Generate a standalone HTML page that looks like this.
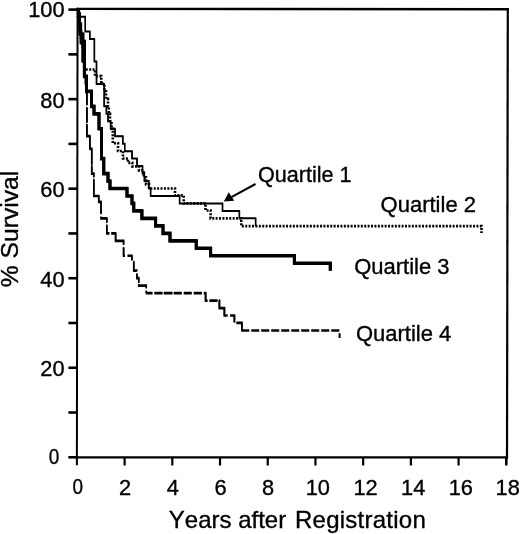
<!DOCTYPE html>
<html><head><meta charset="utf-8"><title>Survival by quartile</title>
<style>
html,body{margin:0;padding:0;background:#fff;}
body{width:520px;height:534px;overflow:hidden;}
svg{display:block;}
text{font-kerning:none;font-family:"Liberation Sans",Arial,Helvetica,sans-serif;fill:#000;stroke:#000;stroke-width:0.35px;}
.t{font-size:21.8px;}
.q{font-size:22px;}
.a{font-size:24px;}
</style></head><body>
<svg width="520" height="534" viewBox="0 0 520 534">
<rect width="520" height="534" fill="#fff"/>
<g fill="none" stroke="#000"><line x1="77.57" y1="7.7" x2="76.88" y2="465.3" stroke-width="2"/><line x1="507.8" y1="8.1" x2="507.0" y2="458.5" stroke-width="2.2"/><line x1="76.5" y1="8.85" x2="508.9" y2="9.25" stroke-width="2.3"/><line x1="75.9" y1="457.3" x2="508.1" y2="457.4" stroke-width="2.3"/></g>
<line x1="68.4" y1="457.3" x2="77.3" y2="457.3" stroke="#000" stroke-width="2.6"/>
<line x1="68.4" y1="412.53" x2="77.3" y2="412.53" stroke="#000" stroke-width="2.6"/>
<line x1="68.4" y1="367.76" x2="77.3" y2="367.76" stroke="#000" stroke-width="2.6"/>
<line x1="68.4" y1="322.99" x2="77.3" y2="322.99" stroke="#000" stroke-width="2.6"/>
<line x1="68.4" y1="278.22" x2="77.3" y2="278.22" stroke="#000" stroke-width="2.6"/>
<line x1="68.4" y1="233.45" x2="77.3" y2="233.45" stroke="#000" stroke-width="2.6"/>
<line x1="68.4" y1="188.68" x2="77.3" y2="188.68" stroke="#000" stroke-width="2.6"/>
<line x1="68.4" y1="143.91" x2="77.3" y2="143.91" stroke="#000" stroke-width="2.6"/>
<line x1="68.4" y1="99.14" x2="77.3" y2="99.14" stroke="#000" stroke-width="2.6"/>
<line x1="68.4" y1="54.37" x2="77.3" y2="54.37" stroke="#000" stroke-width="2.6"/>
<line x1="68.4" y1="9.6" x2="77.3" y2="9.6" stroke="#000" stroke-width="2.6"/>
<line x1="124.61" y1="457.3" x2="124.61" y2="465.5" stroke="#000" stroke-width="2.2"/>
<line x1="172.32" y1="457.3" x2="172.32" y2="465.5" stroke="#000" stroke-width="2.2"/>
<line x1="220.03" y1="457.3" x2="220.03" y2="465.5" stroke="#000" stroke-width="2.2"/>
<line x1="267.74" y1="457.3" x2="267.74" y2="465.5" stroke="#000" stroke-width="2.2"/>
<line x1="315.46" y1="457.3" x2="315.46" y2="465.5" stroke="#000" stroke-width="2.2"/>
<line x1="363.17" y1="457.3" x2="363.17" y2="465.5" stroke="#000" stroke-width="2.2"/>
<line x1="410.88" y1="457.3" x2="410.88" y2="465.5" stroke="#000" stroke-width="2.2"/>
<line x1="458.59" y1="457.3" x2="458.59" y2="465.5" stroke="#000" stroke-width="2.2"/>
<line x1="506.3" y1="457.3" x2="506.3" y2="465.5" stroke="#000" stroke-width="2.6"/>
<text transform="translate(59.4,464.0) scale(0.87,1)" text-anchor="end" class="t">0</text>
<text x="64.6" y="376.16" text-anchor="end" class="t">20</text>
<text x="64.6" y="286.62" text-anchor="end" class="t">40</text>
<text x="64.6" y="196.78" text-anchor="end" class="t">60</text>
<text x="64.6" y="107.74" text-anchor="end" class="t">80</text>
<text x="64.6" y="16.8" text-anchor="end" class="t">100</text>
<text transform="translate(77.8,494.1) scale(0.87,1)" text-anchor="middle" class="t">0</text>
<text x="125.17" y="494.6" text-anchor="middle" class="t">2</text>
<text x="172.83" y="494.6" text-anchor="middle" class="t">4</text>
<text x="220.5" y="494.6" text-anchor="middle" class="t">6</text>
<text x="268.17" y="494.6" text-anchor="middle" class="t">8</text>
<text x="317.83" y="494.6" text-anchor="middle" class="t">10</text>
<text x="365.5" y="494.6" text-anchor="middle" class="t">12</text>
<text x="413.17" y="494.6" text-anchor="middle" class="t">14</text>
<text x="460.83" y="494.6" text-anchor="middle" class="t">16</text>
<text x="507.7" y="494.6" text-anchor="middle" class="t">18</text>
<path d="M78,9.2 V16.01 H79 V24.03 H80 V31.55 H81 V39.06 H82.8 V46.58 H84.5 V69.43 H95 V76.14 H101.3 V83.91 H104.4 V91.38 H106 V98.89 H108 V106.31 H108.8 V113.82 H110 V121.24 H111.5 V128.76 H112.8 V143.29 H118 V151.0 H123 V158.52 H128 V162.83 H132.3 V166.34 H139 V170.35 H143.8 V177.36 H146 V184.38 H149 V188.48 H175 V195.4 H183.75 V203.42 H205.5 V210.43 H210.6 V218.35 H241.25 V226.17 H481.5 V232.98" fill="none" stroke="#000" stroke-width="2.6" stroke-dasharray="2 1.4"/>
<g fill="none" stroke="#000" stroke-width="1.6" stroke-dasharray="58.9 2.0 26.6 2.0 15.0 2.5 15.0 1.7 45.25 1.2 13.25 2.4 41.55 3.25 11.3 2.5 10.93 1.85 23.42 3.1 9.63 2.5 8.97 3.04 12.46 2.95 10.6 2.1 10.9 3.0 500 1"><path d="M78.2,9.2 V22.03 H79.3 V34.05 H80.5 V43.07 H82.3 V61.51 H84.3 V76.44 H85.5 V83.91 H86.9 V136.17 H89.9 V148.8 H91.75 V173.55 H93.8 V196.0 H98.75 V201.91 H101 V218.35 H106.8 V233.33 H115.6 V240.8 H123.6 V255.73 H131.9 V262.04 H133.75 V270.66 H136.9 V278.18 H138.75 V285.59 H146.25 V293.11" transform="translate(0,-0.55)"/><path d="M78.2,9.2 V22.03 H79.3 V34.05 H80.5 V43.07 H82.3 V61.51 H84.3 V76.44 H85.5 V83.91 H86.9 V136.17 H89.9 V148.8 H91.75 V173.55 H93.8 V196.0 H98.75 V201.91 H101 V218.35 H106.8 V233.33 H115.6 V240.8 H123.6 V255.73 H131.9 V262.04 H133.75 V270.66 H136.9 V278.18 H138.75 V285.59 H146.25 V293.11" transform="translate(0,0.55)"/></g>
<g fill="none" stroke="#000" stroke-width="1.7" stroke-dasharray="6.25 1.9 8.1 1.25 8.75 1.25 8.0 2.0 8.0 2.0 8.15 1.85 11.22 1.9 8.2 1.3 23.64 2.5 11.08 2.67 500 1"><path d="M146.25,293.11 H205.6 V300.58 H219.4 V308.04 H224.4 V315.52 H234.4 V322.97 H241.9 V330.46" transform="translate(0,-0.5)"/><path d="M146.25,293.11 H205.6 V300.58 H219.4 V308.04 H224.4 V315.52 H234.4 V322.97 H241.9 V330.46" transform="translate(0,0.5)"/></g>
<g fill="none" stroke="#000" stroke-width="1.7" stroke-dasharray="8 2"><path d="M241.25,330.5 H340" transform="translate(0,-0.5)"/><path d="M241.25,330.5 H340" transform="translate(0,0.5)"/></g>
<path d="M339.6,333.2 V338" stroke="#000" stroke-width="2" fill="none"/>
<g fill="none" stroke="#000" stroke-width="1.4" ><path d="M78,9.2 V16.67 H85.3 V31.62 H89.8 V39.06 H94.4 V61.51 H96.5 V83.91 H104.2 V106.31 H106.4 V113.82 H108 V121.24 H110.6 V128.76 H115 V136.17 H122.8 V143.69 H124.7 V151.15 H132 V158.62 H137 V166.1 H142.5 V173.55 H144.4 V181.04 H148.75 V188.48 H150.6 V196.0 H179.6 V203.42 H222.5 V210.93 H239.4 V218.35 H255.6 V225.86" transform="translate(0,-0.3)"/><path d="M78,9.2 V16.67 H85.3 V31.62 H89.8 V39.06 H94.4 V61.51 H96.5 V83.91 H104.2 V106.31 H106.4 V113.82 H108 V121.24 H110.6 V128.76 H115 V136.17 H122.8 V143.69 H124.7 V151.15 H132 V158.62 H137 V166.1 H142.5 V173.55 H144.4 V181.04 H148.75 V188.48 H150.6 V196.0 H179.6 V203.42 H222.5 V210.93 H239.4 V218.35 H255.6 V225.86" transform="translate(0,0.3)"/></g>
<g fill="none" stroke="#000" stroke-width="3"><path d="M78.6,9.2 V14.01 H79.5 V24.13 H80.6 V34.05 H82.8 V41.57 H84.4 V76.44 H86.5 V91.38 H91.5 V106.31 H94 V113.82 H99 V128.76 H101.5 V158.62 H103.75 V173.55 H108 V181.04 H110 V188.48 H127 V196.0 H132 V203.42 H133.75 V210.93 H141.9 V218.35 H155.6 V225.86 H163 V233.33 H170 V240.8 H196.25 V248.27 H210.6 V255.73 H294.4 V263.25 H330.3 V270.66" transform="translate(0,-0.35)"/><path d="M78.6,9.2 V14.01 H79.5 V24.13 H80.6 V34.05 H82.8 V41.57 H84.4 V76.44 H86.5 V91.38 H91.5 V106.31 H94 V113.82 H99 V128.76 H101.5 V158.62 H103.75 V173.55 H108 V181.04 H110 V188.48 H127 V196.0 H132 V203.42 H133.75 V210.93 H141.9 V218.35 H155.6 V225.86 H163 V233.33 H170 V240.8 H196.25 V248.27 H210.6 V255.73 H294.4 V263.25 H330.3 V270.66" transform="translate(0,0.35)"/></g>
<line x1="255.5" y1="184" x2="230" y2="197.8" stroke="#000" stroke-width="2"/>
<polygon points="223.8,201.5 228.75,192.3 234.2,200.8" fill="#000"/>
<text x="258" y="181.8" class="q" style="font-size:21.6px">Quartile 1</text>
<text x="380.6" y="212" class="q">Quartile 2</text>
<text x="354.2" y="274.4" class="q">Quartile 3</text>
<text x="355.9" y="341.3" class="q">Quartile 4</text>
<text y="528.3" class="a"><tspan x="168.8">Years</tspan> <tspan x="238.2">after</tspan> <tspan x="295" letter-spacing="0.25">Registration</tspan></text>
<text transform="translate(18.4,287.3) rotate(-90)" class="a" style="font-size:24.7px">% Survival</text>
</svg>
</body></html>
